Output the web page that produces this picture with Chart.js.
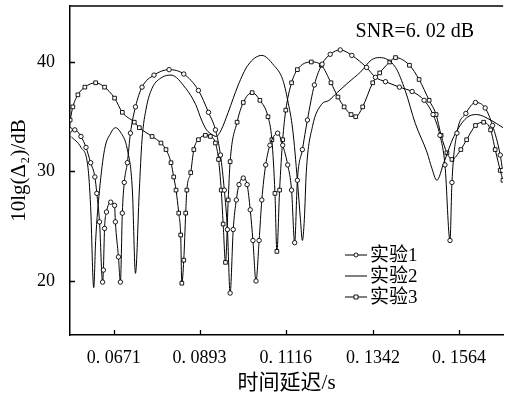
<!DOCTYPE html>
<html>
<head>
<meta charset="utf-8">
<script src="https://cdn.jsdelivr.net/npm/chart.js@4.4.1/dist/chart.umd.min.js"></script>
<style>
html,body{margin:0;padding:0;background:#fff;}
canvas{display:block;}
</style>
</head>
<body>
<canvas id="c" width="508" height="398"></canvas>
<script>
// ---- data ----
const seriesNames = ['实验1', '实验2', '实验3'];
const xTickValues = [0.0671, 0.0893, 0.1116, 0.1342, 0.1564];
const xTickLabels = ['0. 0671', '0. 0893', '0. 1116', '0. 1342', '0. 1564'];
const yTickValues = [20, 30, 40];

// 实验1 (circle markers)
const exp1X = [0.0558,0.0570,0.0586,0.0599,0.0611,0.0622,0.0627,0.0634,0.0642,0.0644,0.0647,0.0652,0.0663,0.0673,0.0675,0.0683,0.0688,0.0693,0.0698,0.0706,0.0714,0.0727,0.0744,0.0775,0.0814,0.0852,0.0890,0.0916,0.0934,0.0947,0.0957,0.0965,0.0972,0.0980,0.0988,0.0995,0.1006,0.1016,0.1024,0.1031,0.1039,0.1047,0.1054,0.1064,0.1075,0.1095,0.1108,0.1121,0.1131,0.1139,0.1146,0.1159,0.1172,0.1190,0.1210,0.1231,0.1257,0.1287,0.1325,0.1348,0.1374,0.1410,0.1443,0.1474,0.1497,0.1515,0.1528,0.1541,0.1546,0.1559,0.1582,0.1607,0.1632,0.1651,0.1671,0.1677];
const exp1Y = [33.8,33.8,33.2,32.2,30.8,29.5,28.0,25.4,19.9,21.0,24.8,26.3,27.2,26.9,25.4,22.2,19.9,26.2,29.0,30.8,33.5,35.9,37.7,38.8,39.3,38.9,37.4,35.4,33.8,31.5,28.3,24.7,18.9,24.7,27.4,28.8,29.4,28.8,26.5,23.7,20.0,23.7,27.4,30.6,32.4,33.5,32.4,30.6,28.3,23.5,29.2,32.0,34.7,37.9,39.8,40.7,41.1,40.6,39.5,38.6,38.2,37.7,37.3,36.5,35.2,33.3,30.6,23.7,29.0,33.5,35.3,36.3,35.8,34.2,31.5,30.1];

// 实验2 (plain line)
const exp2X = [0.0560,0.0586,0.0604,0.0611,0.0619,0.0624,0.0634,0.0647,0.0663,0.0675,0.0688,0.0706,0.0719,0.0727,0.0737,0.0744,0.0755,0.0770,0.0796,0.0819,0.0857,0.0883,0.0898,0.0911,0.0924,0.0936,0.0949,0.0967,0.0993,0.1018,0.1054,0.1085,0.1108,0.1121,0.1134,0.1146,0.1154,0.1159,0.1164,0.1169,0.1185,0.1208,0.1228,0.1249,0.1277,0.1310,0.1338,0.1359,0.1400,0.1425,0.1451,0.1482,0.1494,0.1507,0.1525,0.1551,0.1584,0.1610,0.1646,0.1678];
const exp2Y = [33.2,32.2,30.4,26.8,19.4,23.7,28.3,32.0,33.5,34.0,33.6,32.0,28.3,20.7,28.3,32.9,35.8,37.6,38.6,38.8,37.6,36.1,34.7,33.8,33.4,33.2,33.8,35.4,37.9,39.7,40.6,39.7,38.4,36.5,33.8,29.2,25.6,23.7,25.6,29.9,34.1,36.1,36.5,37.2,38.1,39.1,40.2,40.4,39.5,37.4,34.4,31.7,30.3,29.2,30.8,33.2,34.9,35.2,34.7,34.0];

// 实验3 (square markers)
const exp3X = [0.0558,0.0565,0.0578,0.0596,0.0624,0.0647,0.0673,0.0693,0.0724,0.0737,0.0770,0.0793,0.0806,0.0819,0.0826,0.0832,0.0839,0.0844,0.0847,0.0852,0.0857,0.0860,0.0870,0.0878,0.0890,0.0908,0.0921,0.0934,0.0942,0.0949,0.0954,0.0960,0.0967,0.0972,0.0990,0.1006,0.1029,0.1049,0.1070,0.1080,0.1088,0.1093,0.1100,0.1108,0.1116,0.1131,0.1146,0.1182,0.1208,0.1233,0.1251,0.1267,0.1285,0.1297,0.1315,0.1341,0.1359,0.1385,0.1400,0.1436,0.1461,0.1487,0.1505,0.1518,0.1533,0.1546,0.1569,0.1584,0.1607,0.1628,0.1646,0.1658,0.1671,0.1678];
const exp3Y = [34.7,35.9,37.0,37.7,38.1,37.7,36.7,35.4,34.5,34.0,33.2,32.6,32.0,30.8,29.5,28.3,26.2,24.2,19.8,21.9,26.2,28.3,29.9,32.0,32.9,33.3,33.2,32.6,31.1,28.3,25.2,21.7,27.4,30.9,34.5,36.3,37.2,36.5,35.0,32.9,28.0,22.7,28.3,32.9,35.6,38.1,39.3,40.0,39.7,38.1,36.8,35.9,35.2,35.0,35.9,38.1,39.0,40.0,40.4,39.7,38.4,36.5,35.2,33.3,31.7,31.1,32.0,32.9,34.2,34.5,33.8,32.0,30.1,29.2];

const snrText = 'SNR=6. 02 dB';
const xTitle = '时间延迟/s';
const yTitle = '10lg(Δ₂)/dB';

// ---- build ----
const zip = (xs, ys) => xs.map((x, i) => ({x: x, y: ys[i]}));
const FONT = "'Liberation Serif', 'Noto Sans CJK SC', serif";

const overlay = {
  id: 'overlay',
  afterDraw(chart) {
    const {ctx, chartArea: a, scales: {x, y}} = chart;
    ctx.save();
    ctx.strokeStyle = '#000';
    // top frame line
    ctx.lineWidth = 1.5;
    ctx.beginPath();
    ctx.moveTo(a.left, a.top);
    ctx.lineTo(a.right, a.top);
    ctx.stroke();
    // inward ticks
    ctx.lineWidth = 1.3;
    ctx.beginPath();
    x.ticks.forEach(t => {
      const p = Math.round(x.getPixelForValue(t.value)) + 0.5;
      ctx.moveTo(p, a.bottom); ctx.lineTo(p, a.bottom - 5);
    });
    y.ticks.forEach(t => {
      const p = Math.round(y.getPixelForValue(t.value)) + 0.5;
      ctx.moveTo(a.left, p); ctx.lineTo(a.left + 5, p);
    });
    ctx.stroke();
    // SNR annotation
    ctx.fillStyle = '#000';
    ctx.font = "20px " + FONT;
    ctx.textAlign = 'right';
    ctx.textBaseline = 'middle';
    ctx.fillText(snrText, a.right - 29, a.top + 26);
    // legend
    ctx.textAlign = 'left';
    ctx.font = "19px " + FONT;
    chart.data.datasets.forEach((ds, i) => {
      const ly = a.top + 249 + i * 21;
      const lx = a.left + 275;
      ctx.strokeStyle = '#000';
      ctx.lineWidth = 1;
      ctx.beginPath();
      ctx.moveTo(lx, ly); ctx.lineTo(lx + 22, ly);
      ctx.stroke();
      if (ds.pointRadius > 0) {
        ctx.fillStyle = '#fff';
        ctx.lineWidth = 0.9;
        ctx.beginPath();
        if (ds.pointStyle === 'rect') {
          ctx.rect(lx + 9, ly - 2, 4, 4);
        } else {
          ctx.arc(lx + 11, ly, 2, 0, Math.PI * 2);
        }
        ctx.fill(); ctx.stroke();
      }
      ctx.fillStyle = '#000';
      ctx.fillText(ds.label, lx + 25, ly + 1);
    });
    ctx.restore();
  }
};

const baseDs = {
  borderColor: '#000',
  borderWidth: 1,
  pointBackgroundColor: '#fff',
  pointBorderColor: '#000',
  pointBorderWidth: 0.9,
  cubicInterpolationMode: 'monotone',
  fill: false
};

new Chart(document.getElementById('c'), {
  type: 'line',
  data: {
    datasets: [
      Object.assign({}, baseDs, {label: seriesNames[0], data: zip(exp1X, exp1Y), pointStyle: 'circle', pointRadius: 2.2}),
      Object.assign({}, baseDs, {label: seriesNames[1], data: zip(exp2X, exp2Y), pointRadius: 0}),
      Object.assign({}, baseDs, {label: seriesNames[2], data: zip(exp3X, exp3Y), pointStyle: 'rect', pointRadius: 2.6})
    ]
  },
  options: {
    responsive: false,
    animation: false,
    layout: {padding: {top: 6, right: 0, left: 0, bottom: 0}},
    scales: {
      x: {
        type: 'linear',
        min: 0.05576, max: 0.16784,
        afterBuildTicks: s => { s.ticks = xTickValues.map(v => ({value: v})); },
        afterFit: s => { s.height = 63; s.paddingLeft = 0; s.paddingRight = 0; },
        ticks: {
          autoSkip: false, maxRotation: 0, padding: 4, color: '#000',
          font: {family: FONT, size: 18},
          callback: (v, i) => xTickLabels[i]
        },
        grid: {display: false},
        border: {display: true, color: '#000', width: 1.5},
        title: {display: true, text: xTitle, color: '#000', font: {family: FONT, size: 21}, padding: {top: 0, bottom: 2}}
      },
      y: {
        type: 'linear',
        min: 15.07, max: 45.11,
        afterBuildTicks: s => { s.ticks = yTickValues.map(v => ({value: v})); },
        afterFit: s => { s.width = 70; s.paddingTop = 0; s.paddingBottom = 0; },
        ticks: {padding: 7, color: '#000', font: {family: FONT, size: 18}},
        grid: {display: false},
        border: {display: true, color: '#000', width: 1.5},
        title: {display: true, text: yTitle, color: '#000', font: {family: FONT, size: 21}, padding: {top: 7, bottom: 0}}
      }
    },
    plugins: {legend: {display: false}, tooltip: {enabled: false}}
  },
  plugins: [overlay]
});
</script>
</body>
</html>
